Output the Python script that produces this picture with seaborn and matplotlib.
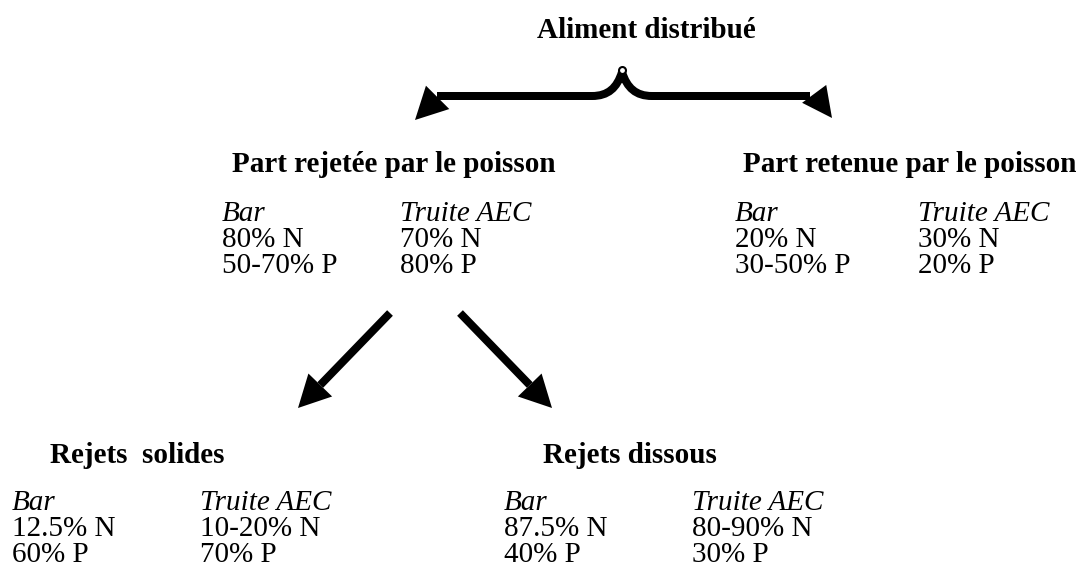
import numpy as np
import matplotlib
matplotlib.use("Agg")
import matplotlib.pyplot as plt
from matplotlib.path import Path
from matplotlib.patches import PathPatch, Polygon
import seaborn as sns

# text content of the diagram
title = "Aliment distribué"
species = ["Bar", "Truite AEC"]
headings = ["Part rejetée par le poisson", "Part retenue par le poisson",
            "Rejets  solides", "Rejets dissous"]
rejected_bar = ["80% N", "50-70% P"]
rejected_truite = ["70% N", "80% P"]
retained_bar = ["20% N", "30-50% P"]
retained_truite = ["30% N", "20% P"]
solid_bar = ["12.5% N", "60% P"]
solid_truite = ["10-20% N", "70% P"]
dissolved_bar = ["87.5% N", "40% P"]
dissolved_truite = ["80-90% N", "30% P"]

sns.set_theme(style="white")
plt.rcParams["font.family"] = ["Liberation Serif", "DejaVu Serif"]
plt.rcParams["text.color"] = "black"

fig = plt.figure(figsize=(10.84, 5.83), dpi=100)
ax = fig.add_axes([0, 0, 1, 1])
ax.set_xlim(0, 1084)
ax.set_ylim(583, 0)
ax.axis("off")

FS = 21
LW = 8 * 0.72  # 8 px in points


def head(tip, direction, length=32, width=33):
    d = np.array(direction, dtype=float)
    d = d / np.linalg.norm(d)
    n = np.array([-d[1], d[0]])
    tip = np.array(tip, dtype=float)
    base = tip - d * length
    pts = [tip, base + n * width / 2, base - n * width / 2]
    ax.add_patch(Polygon(pts, closed=True, facecolor="black", edgecolor="none"))
    return base


def arrow(x0, y0, x1, y1):
    base = head((x1, y1), (x1 - x0, y1 - y0))
    ax.plot([x0, base[0]], [y0, base[1]], color="black", lw=LW,
            solid_capstyle="butt")


# brace with two arrows
verts = [(437, 96), (592, 96),
         (608, 96), (617, 88), (622, 72),
         (627, 88), (636, 96), (652, 96),
         (810, 96)]
codes = [Path.MOVETO, Path.LINETO,
         Path.CURVE4, Path.CURVE4, Path.CURVE4,
         Path.CURVE4, Path.CURVE4, Path.CURVE4,
         Path.LINETO]
ax.add_patch(PathPatch(Path(verts, codes), facecolor="none", edgecolor="black",
                       lw=LW, capstyle="butt", joinstyle="round"))
head((415, 120), (-1, 1))
head((832, 118), (17, 23), length=30, width=30)
ax.plot(622, 70, marker="o", ms=5, mfc="white", mec="black", mew=1.5)

# lower arrows
arrow(390, 313, 298, 408)
arrow(460, 313, 552, 408)


def block(x_head, y_head, heading, x1, x2, y_rows, col1, col2):
    ax.text(x_head, y_head, heading, fontsize=FS, fontweight="bold",
            ha="left", va="baseline")
    ax.text(x1, y_rows[0], species[0], fontsize=FS, style="italic", va="baseline")
    ax.text(x2, y_rows[0], species[1], fontsize=FS, style="italic", va="baseline")
    for i in range(2):
        ax.text(x1, y_rows[i + 1], col1[i], fontsize=FS, va="baseline")
        ax.text(x2, y_rows[i + 1], col2[i], fontsize=FS, va="baseline")


ax.text(537, 38, title, fontsize=FS, fontweight="bold", ha="left", va="baseline")

top_rows = [221, 247, 273]
bottom_rows = [510, 536, 562]
block(232, 172, headings[0], 222, 400, top_rows, rejected_bar, rejected_truite)
block(743, 172, headings[1], 735, 918, top_rows, retained_bar, retained_truite)
block(50, 463, headings[2], 12, 200, bottom_rows, solid_bar, solid_truite)
block(543, 463, headings[3], 504, 692, bottom_rows, dissolved_bar, dissolved_truite)

fig.savefig("out.png", dpi=100)
